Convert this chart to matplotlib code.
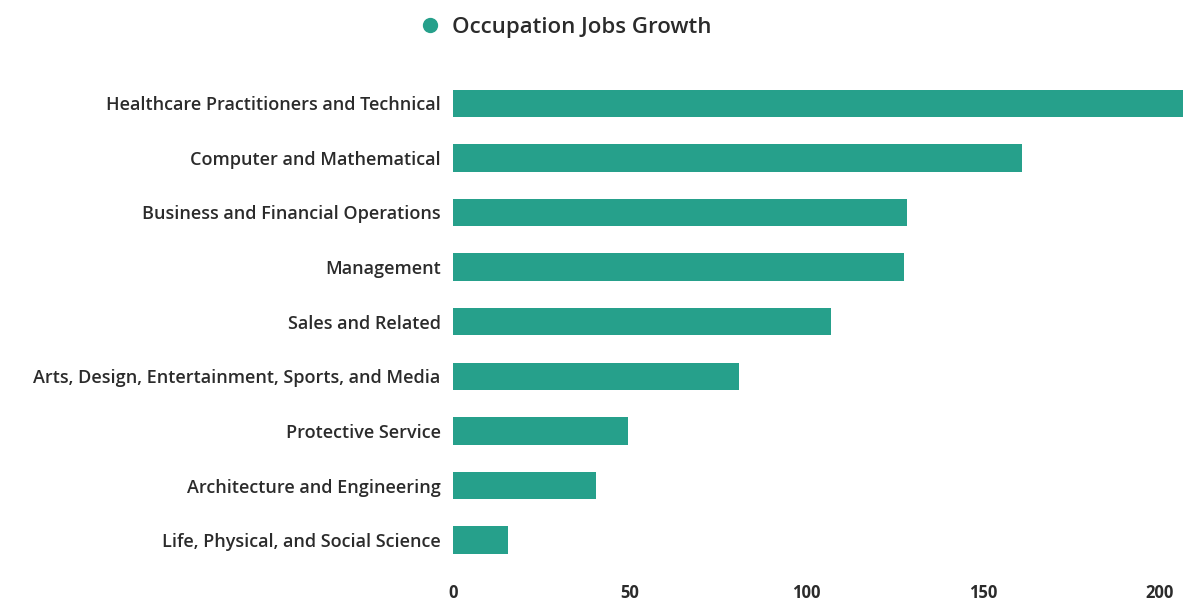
import matplotlib
matplotlib.use("Agg")
import matplotlib.pyplot as plt
from matplotlib.lines import Line2D

# occupations, bottom to top as drawn
occupations = [
    "Life, Physical, and Social Science",
    "Architecture and Engineering",
    "Protective Service",
    "Arts, Design, Entertainment, Sports, and Media",
    "Sales and Related",
    "Management",
    "Business and Financial Operations",
    "Computer and Mathematical",
    "Healthcare Practitioners and Technical",
]
growth = [15.5, 40.5, 49.5, 81, 107, 127.5, 128.5, 161, 207]
x_ticks = [0, 50, 100, 150, 200]

bar_color = "#26a08b"
text_color = "#2b2b2b"

plt.rcParams['font.family'] = ['Open Sans', 'DejaVu Sans']

fig = plt.figure(figsize=(11.83, 6.03), dpi=100)
ax = fig.add_axes([0.383, 0.059, 0.617, 0.815])

ax.barh(range(len(occupations)), growth, height=0.5, color=bar_color)

ax.set_xlim(0, 206.5)
ax.set_ylim(-0.5, len(occupations) - 0.5)
ax.set_yticks(range(len(occupations)))
ax.set_yticklabels(occupations, fontsize=13, fontweight='semibold', color=text_color)
ax.set_xticks(x_ticks)
ax.set_xticklabels([str(t) for t in x_ticks], fontsize=12, fontweight='bold', color=text_color)
ax.tick_params(axis='y', length=0, pad=9)
ax.tick_params(axis='x', length=0, pad=12)

for s in ax.spines.values():
    s.set_visible(False)

# legend on top
handle = Line2D([], [], marker='o', linestyle='none', markersize=10,
                markerfacecolor=bar_color, markeredgecolor=bar_color)
fig.legend([handle], ["Occupation Jobs Growth"], loc='center',
           bbox_to_anchor=(0.473, 0.955), frameon=False,
           prop={'size': 16, 'weight': 'semibold'}, labelcolor=text_color,
           handletextpad=0.0)

fig.savefig("out.png", dpi=100)
